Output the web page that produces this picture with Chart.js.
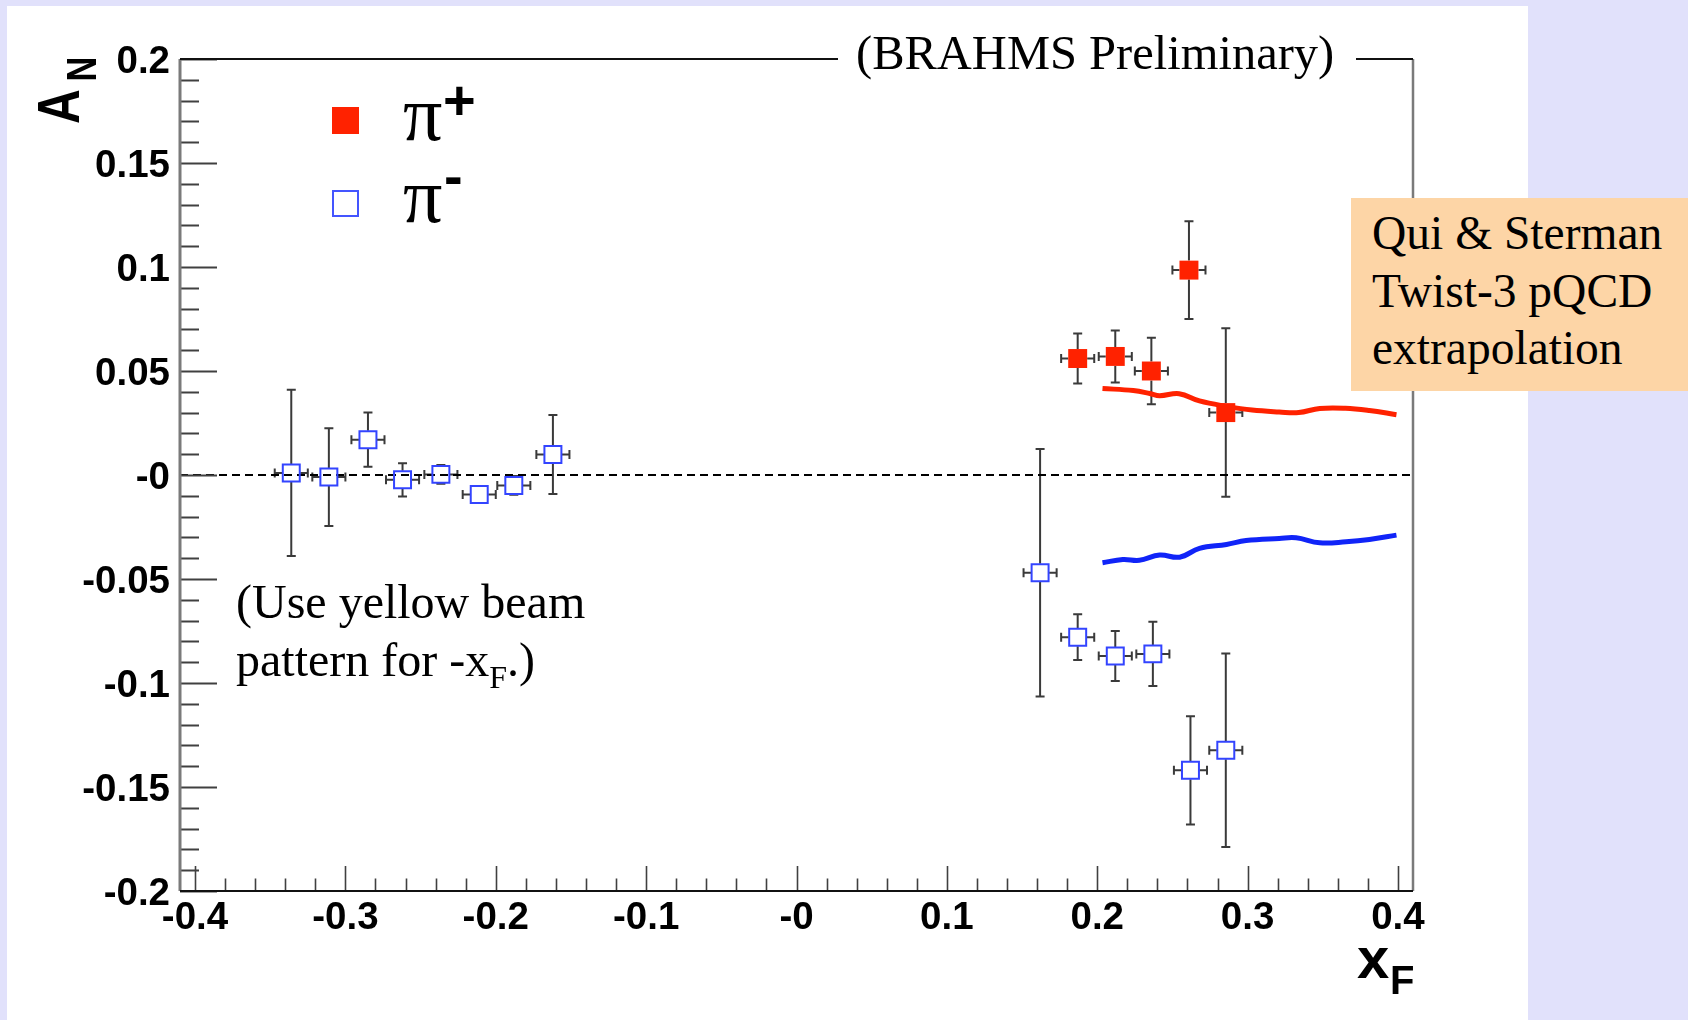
<!DOCTYPE html>
<html><head><meta charset="utf-8">
<script src="https://cdn.jsdelivr.net/npm/chart.js@4.4.1/dist/chart.umd.min.js"></script>
<style>
html,body{margin:0;padding:0;}
body{width:1688px;height:1020px;background:#e1e1fb;position:relative;overflow:hidden;}
#panel{position:absolute;left:7px;top:6px;width:1521px;height:1014px;background:#fff;}
#c{position:absolute;left:0;top:0;}
.serif{font-family:"Liberation Serif","Times New Roman",serif;color:#000;position:absolute;white-space:nowrap;}
.sans{font-family:"Liberation Sans",Arial,sans-serif;font-weight:bold;color:#000;position:absolute;white-space:nowrap;}
#qsbox{position:absolute;left:1351px;top:198px;width:337px;height:193px;background:#fdd5a6;box-sizing:border-box;padding:7.4px 0 0 21px;font-family:"Liberation Serif","Times New Roman",serif;font-size:47.5px;line-height:57.5px;color:#000;white-space:nowrap;}
</style></head>
<body>
<div id="panel"></div>
<canvas id="c" width="1688" height="1020"></canvas>
<div class="serif" style="left:838px;top:29px;font-size:48.5px;line-height:48px;background:#fff;padding:0 22px 0 18px;">(BRAHMS Preliminary)</div>
<div id="qsbox">Qui &amp; Sterman<br>Twist-3 pQCD<br>extrapolation</div>
<div class="serif" style="left:236px;top:572.8px;font-size:48px;line-height:58px;">(Use yellow beam<br>pattern for -x<span style="font-size:32px;position:relative;top:12px;">F</span>.)</div>
<div style="position:absolute;left:332px;top:107px;width:27px;height:27px;background:#ff2200;"></div>
<div style="position:absolute;left:332px;top:190px;width:27px;height:27px;border:2px solid #4455ff;box-sizing:border-box;background:#fff;"></div>
<div class="serif" style="left:403px;top:75px;font-size:78px;line-height:78px;">π</div>
<div class="sans" style="left:443px;top:72px;font-size:56px;line-height:56px;">+</div>
<div class="serif" style="left:403px;top:157px;font-size:78px;line-height:78px;">π</div>
<div class="sans" style="left:444px;top:147.6px;font-size:56px;line-height:56px;">-</div>
<script>
// ---- data ----
const xTickValues = [-0.4,-0.3,-0.2,-0.1,0,0.1,0.2,0.3,0.4];
const xTickLabels = ['-0.4','-0.3','-0.2','-0.1','-0','0.1','0.2','0.3','0.4'];
const yTickValues = [-0.2,-0.15,-0.1,-0.05,0,0.05,0.1,0.15,0.2];
const yTickLabels = ['-0.2','-0.15','-0.1','-0.05','-0','0.05','0.1','0.15','0.2'];

const piPlusX    = [0.187, 0.212, 0.236, 0.261, 0.2855];
const piPlusY    = [0.056, 0.057, 0.050, 0.0985, 0.030];
const piPlusYErr = [0.012, 0.0125, 0.016, 0.0235, 0.0405];
const piPlusXErr = [0.011, 0.011, 0.011, 0.011, 0.011];

const piMinusX    = [-0.336, -0.311, -0.285, -0.262, -0.2365, -0.211, -0.188, -0.162, 0.162, 0.187, 0.212, 0.237, 0.262, 0.2855];
const piMinusY    = [0.001, -0.001, 0.017, -0.0023, 0.0003, -0.0094, -0.005, 0.0099, -0.047, -0.078, -0.087, -0.086, -0.142, -0.1323];
const piMinusYErr = [0.040, 0.0235, 0.013, 0.008, 0.0045, 0.003, 0.0045, 0.019, 0.0595, 0.011, 0.012, 0.0155, 0.026, 0.0465];
const piMinusXErr = [0.011, 0.011, 0.011, 0.011, 0.011, 0.011, 0.011, 0.011, 0.011, 0.011, 0.011, 0.011, 0.011, 0.011];

const theoryPlusX  = [0.2035, 0.224, 0.235, 0.2415, 0.2545, 0.268, 0.286, 0.303, 0.321, 0.334, 0.348, 0.365, 0.381, 0.399];
const theoryPlusY  = [0.0416, 0.0406, 0.0392, 0.0381, 0.0391, 0.0356, 0.0330, 0.0312, 0.0303, 0.0300, 0.0320, 0.0321, 0.0310, 0.0290];
const theoryMinusX = [0.2035, 0.217, 0.228, 0.2415, 0.2548, 0.268, 0.286, 0.299, 0.321, 0.3323, 0.348, 0.3655, 0.381, 0.399];
const theoryMinusY = [-0.0422, -0.0406, -0.041, -0.0385, -0.0395, -0.0353, -0.0334, -0.0315, -0.0305, -0.0302, -0.0326, -0.0321, -0.031, -0.0289];

const zeroLineX = [-0.41, 0.41];
const zeroLineY = [0, 0];

const pts = (xs, ys) => xs.map((x, i) => ({x: x, y: ys[i]}));

const errorBars = [
  {x: piPlusX, y: piPlusY, ye: piPlusYErr, xe: piPlusXErr, half: 9.5},
  {x: piMinusX, y: piMinusY, ye: piMinusYErr, xe: piMinusXErr, half: 9}
];

const errPlugin = {
  id: 'errbars',
  beforeDatasetsDraw(chart) {
    const ctx = chart.ctx, xs = chart.scales.x, ys = chart.scales.y;
    ctx.save();
    ctx.strokeStyle = '#3a3a3a';
    ctx.lineWidth = 2;
    const cap = 4.5;
    errorBars.forEach(s => {
      s.x.forEach((xv, i) => {
        const px = xs.getPixelForValue(xv), py = ys.getPixelForValue(s.y[i]);
        const top = ys.getPixelForValue(s.y[i] + s.ye[i]);
        const bot = ys.getPixelForValue(s.y[i] - s.ye[i]);
        const lft = xs.getPixelForValue(xv - s.xe[i]);
        const rgt = xs.getPixelForValue(xv + s.xe[i]);
        ctx.beginPath();
        if (py - top > s.half) {
          ctx.moveTo(px, py - s.half); ctx.lineTo(px, top);
          ctx.moveTo(px - cap, top); ctx.lineTo(px + cap, top);
        }
        if (bot - py > s.half) {
          ctx.moveTo(px, py + s.half); ctx.lineTo(px, bot);
          ctx.moveTo(px - cap, bot); ctx.lineTo(px + cap, bot);
        }
        if (px - lft > s.half) {
          ctx.moveTo(px - s.half, py); ctx.lineTo(lft, py);
          ctx.moveTo(lft, py - cap); ctx.lineTo(lft, py + cap);
          ctx.moveTo(px + s.half, py); ctx.lineTo(rgt, py);
          ctx.moveTo(rgt, py - cap); ctx.lineTo(rgt, py + cap);
        }
        ctx.stroke();
      });
    });
    ctx.restore();
  }
};

const framePlugin = {
  id: 'frame',
  afterDatasetsDraw(chart) {
    const ctx = chart.ctx, a = chart.chartArea, xs = chart.scales.x, ys = chart.scales.y;
    ctx.save();
    ctx.strokeStyle = '#404040';
    ctx.lineWidth = 2;
    ctx.beginPath();
    for (let k = 0; k < yTickValues.length; k++) {
      const v = yTickValues[k];
      const p = Math.round(ys.getPixelForValue(v)) + 0.5;
      ctx.moveTo(a.left, p); ctx.lineTo(a.left + 37, p);
      if (k < yTickValues.length - 1) {
        const step = (yTickValues[k + 1] - v) / 5;
        for (let m = 1; m < 5; m++) {
          const q = Math.round(ys.getPixelForValue(v + m * step)) + 0.5;
          ctx.moveTo(a.left, q); ctx.lineTo(a.left + 19, q);
        }
      }
    }
    ctx.stroke();
    ctx.lineWidth = 1.6;
    ctx.beginPath();
    for (let k = 0; k < xTickValues.length; k++) {
      const v = xTickValues[k];
      const p = Math.round(xs.getPixelForValue(v)) + 0.5;
      ctx.moveTo(p, a.bottom); ctx.lineTo(p, a.bottom - 25);
      if (k < xTickValues.length - 1) {
        const step = (xTickValues[k + 1] - v) / 5;
        for (let m = 1; m < 5; m++) {
          const q = Math.round(xs.getPixelForValue(v + m * step)) + 0.5;
          ctx.moveTo(q, a.bottom); ctx.lineTo(q, a.bottom - 12.5);
        }
      }
    }
    ctx.stroke();
    ctx.lineWidth = 3;
    ctx.strokeStyle = '#7a7a7a';
    ctx.beginPath();
    ctx.moveTo(a.left, a.top); ctx.lineTo(a.left, a.bottom);
    ctx.stroke();
    ctx.lineWidth = 2.5;
    ctx.beginPath();
    ctx.moveTo(a.right, a.top); ctx.lineTo(a.right, a.bottom);
    ctx.stroke();
    ctx.strokeStyle = '#111';
    ctx.lineWidth = 2;
    ctx.beginPath();
    ctx.moveTo(a.left, a.top); ctx.lineTo(a.right, a.top);
    ctx.moveTo(a.left, a.bottom); ctx.lineTo(a.right, a.bottom);
    ctx.stroke();
    ctx.restore();
  },
  afterDraw(chart) {
    const ctx = chart.ctx;
    ctx.save();
    ctx.fillStyle = '#000';
    ctx.textBaseline = 'alphabetic';
    ctx.textAlign = 'left';
    ctx.save();
    ctx.translate(79, 124);
    ctx.rotate(-Math.PI / 2);
    ctx.scale(0.8, 1);
    ctx.font = 'bold 60px "Liberation Sans"';
    ctx.fillText('A', 0, 0);
    ctx.font = 'bold 43px "Liberation Sans"';
    ctx.fillText('N', 53, 17);
    ctx.restore();
    ctx.font = 'bold 58px "Liberation Sans"';
    ctx.fillText('x', 1357, 978);
    ctx.font = 'bold 40px "Liberation Sans"';
    ctx.fillText('F', 1390, 994);
    ctx.restore();
  }
};

const tickFont = {family: 'Liberation Sans', size: 38.5, weight: 'bold'};

new Chart(document.getElementById('c'), {
  type: 'scatter',
  data: {
    datasets: [
      {label: 'π+', data: pts(piPlusX, piPlusY), pointStyle: 'rect', pointRadius: 13.4,
       backgroundColor: '#ff2200', borderWidth: 0, order: 1},
      {label: 'π-', data: pts(piMinusX, piMinusY), pointStyle: 'rect', pointRadius: 12,
       backgroundColor: 'rgba(255,255,255,0)', borderColor: '#3344ff', borderWidth: 2, order: 1},
      {label: 'theory π+', data: pts(theoryPlusX, theoryPlusY), showLine: true, pointRadius: 0,
       borderColor: '#ff2200', borderWidth: 5, tension: 0.4, order: 2},
      {label: 'theory π-', data: pts(theoryMinusX, theoryMinusY), showLine: true, pointRadius: 0,
       borderColor: '#1024f8', borderWidth: 5, tension: 0.4, order: 2},
      {label: 'zero', data: pts(zeroLineX, zeroLineY), showLine: true, pointRadius: 0,
       borderColor: '#000', borderWidth: 2, borderDash: [8, 5], order: 3}
    ]
  },
  options: {
    responsive: false,
    animation: false,
    devicePixelRatio: 1,
    layout: {padding: {left: 0, right: 275, top: 59, bottom: 0}},
    plugins: {legend: {display: false}, tooltip: {enabled: false}},
    scales: {
      x: {
        type: 'linear', min: -0.41, max: 0.41,
        afterBuildTicks: s => { s.ticks = xTickValues.map(v => ({value: v})); },
        afterFit: s => { s.height = 129; },
        grid: {display: false, drawTicks: false}, border: {display: false},
        ticks: {padding: 4, font: tickFont, color: '#000', maxRotation: 0, autoSkip: false,
          callback: v => xTickLabels[xTickValues.findIndex(t => Math.abs(t - v) < 1e-9)]}
      },
      y: {
        type: 'linear', min: -0.2, max: 0.2,
        afterBuildTicks: s => { s.ticks = yTickValues.map(v => ({value: v})); },
        afterFit: s => { s.width = 180; },
        grid: {display: false, drawTicks: false}, border: {display: false},
        ticks: {padding: 10, labelOffset: 3, font: tickFont, color: '#000', autoSkip: false,
          callback: v => yTickLabels[yTickValues.findIndex(t => Math.abs(t - v) < 1e-9)]}
      }
    }
  },
  plugins: [errPlugin, framePlugin]
});
</script>
</body></html>
